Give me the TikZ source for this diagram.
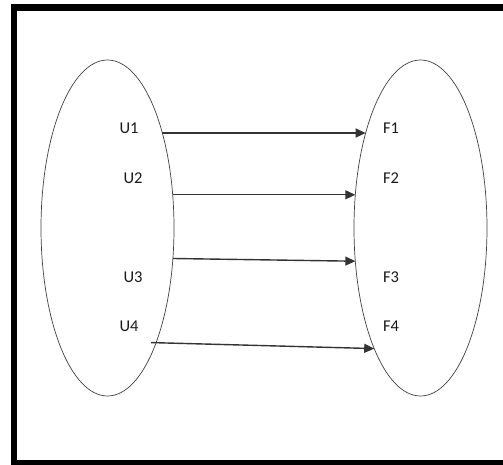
\documentclass[tikz,border=0pt]{standalone}
\usepackage{fontspec}
\setmainfont{Carlito}
\usetikzlibrary{arrows.meta, positioning, shapes.geometric}

\begin{document}
\begin{tikzpicture}[
  x=1pt, y=-1pt,
  node distance=180pt,
  set/.style={ellipse, draw=black!75, line width=0.7pt,
              minimum width=133pt, minimum height=336pt,
              inner sep=0pt, outer sep=0pt},
  elem/.style={font=\fontsize{16.5}{19}\selectfont, text=black!90, inner sep=0pt},
  arrow/.style={-{Triangle[length=10pt, width=9pt]}, line width=1.4pt, draw=black!80}
]
\useasboundingbox (0,0) rectangle (503,464);
\clip (0,0) rectangle (503,464);

% outer frame, runs off the right and bottom edges
\draw[line width=6.5pt] (14,7.5) rectangle (512,463);

% the two sets
\node[set] (setU) at (107.5,228) {};
\node[set, right=of setU] (setF) {};

% elements
\node[elem] (u1) at (129,128.5) {U1};
\node[elem] (u2) at (133,178) {U2};
\node[elem] (u3) at (133,277.5) {U3};
\node[elem] (u4) at (129,326) {U4};

\node[elem] (f1) at (391,128.5) {F1};
\node[elem] (f2) at (391,178) {F2};
\node[elem] (f3) at (391,277.5) {F3};
\node[elem] (f4) at (391,326) {F4};

% mappings
\draw[arrow] (setU.60) -- (setF.120);
\draw[arrow] (setU.27.6) -- (setF.153.7);
\draw[arrow] (setU.-25.4) -- (setF.-153);
\draw[arrow] ([xshift=-5pt]setU.-67.8) -- (setF.-111.4);

\end{tikzpicture}
\end{document}
